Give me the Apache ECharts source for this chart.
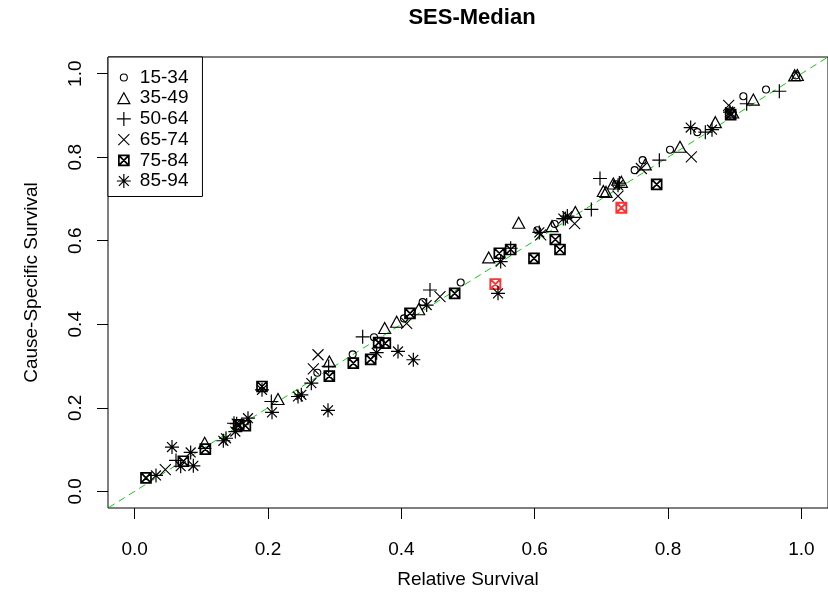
<!DOCTYPE html>
<html>
<head>
<meta charset="utf-8">
<script src="https://cdn.jsdelivr.net/npm/echarts@6/dist/echarts.min.js"></script>
<style>
  html, body { margin: 0; padding: 0; background: #fff; }
  #chart { width: 828px; height: 595px; }
</style>
</head>
<body>
<div id="chart"></div>
<script>
// ---- data (Relative Survival, Cause-Specific Survival) ----
const chartTitle = 'SES-Median';
const xAxisTitle = 'Relative Survival';
const yAxisTitle = 'Cause-Specific Survival';
const tickValues = [0, 0.2, 0.4, 0.6, 0.8, 1.0];
const groupNames = ['15-34', '35-49', '50-64', '65-74', '75-84', '85-94'];

const age15_34 = [
  [0.274, 0.284], [0.327, 0.328], [0.359, 0.369], [0.404, 0.414], [0.432, 0.453],
  [0.489, 0.500], [0.604, 0.625], [0.630, 0.640], [0.722, 0.735], [0.750, 0.769],
  [0.762, 0.793], [0.803, 0.818], [0.844, 0.860], [0.893, 0.910], [0.913, 0.946],
  [0.947, 0.962], [0.992, 0.996]
];
const age35_49 = [
  [0.105, 0.116], [0.215, 0.221], [0.292, 0.311], [0.375, 0.391], [0.393, 0.406],
  [0.426, 0.436], [0.531, 0.560], [0.576, 0.643], [0.626, 0.635], [0.661, 0.669],
  [0.703, 0.719], [0.707, 0.717], [0.718, 0.737], [0.730, 0.741], [0.766, 0.783],
  [0.818, 0.825], [0.871, 0.884], [0.897, 0.907], [0.928, 0.938], [0.990, 0.996],
  [0.994, 0.997]
];
const age50_64 = [
  [0.062, 0.074], [0.149, 0.163], [0.205, 0.215], [0.291, 0.299], [0.342, 0.370],
  [0.443, 0.482], [0.564, 0.582], [0.646, 0.653], [0.685, 0.675], [0.698, 0.749],
  [0.727, 0.738], [0.787, 0.793], [0.856, 0.860], [0.918, 0.928], [0.967, 0.958]
];
const age65_74 = [
  [0.046, 0.052], [0.268, 0.293], [0.275, 0.327], [0.408, 0.402], [0.458, 0.466],
  [0.609, 0.614], [0.660, 0.641], [0.725, 0.707], [0.760, 0.773], [0.835, 0.801],
  [0.891, 0.924]
];
const age75_84 = [
  [0.017, 0.032], [0.073, 0.072], [0.106, 0.101], [0.156, 0.159], [0.166, 0.157],
  [0.191, 0.251], [0.292, 0.276], [0.328, 0.307], [0.354, 0.316], [0.366, 0.356],
  [0.376, 0.355], [0.413, 0.426], [0.480, 0.474], [0.547, 0.570], [0.564, 0.579],
  [0.599, 0.558], [0.631, 0.603], [0.638, 0.579], [0.783, 0.735], [0.894, 0.902]
];
const age75_84Flagged = [
  [0.541, 0.496], [0.730, 0.679]
];
const age85_94 = [
  [0.032, 0.038], [0.056, 0.106], [0.069, 0.060], [0.084, 0.093], [0.088, 0.061],
  [0.133, 0.121], [0.137, 0.127], [0.151, 0.143], [0.153, 0.162], [0.170, 0.175],
  [0.191, 0.243], [0.206, 0.189], [0.245, 0.227], [0.250, 0.231], [0.265, 0.259],
  [0.290, 0.194], [0.363, 0.332], [0.395, 0.335], [0.418, 0.315], [0.438, 0.446],
  [0.545, 0.474], [0.549, 0.550], [0.607, 0.620], [0.643, 0.653], [0.649, 0.659],
  [0.725, 0.733], [0.834, 0.871], [0.866, 0.866], [0.893, 0.908]
];
const identityLine = [[-0.1, -0.1], [1.1, 1.1]];

// ---- styling ----
const FONT = "'Liberation Sans', Arial, sans-serif";
const SYM = {
  circle: 'circle',
  triangle: 'triangle',
  plus: 'path://M0 6L12 6M6 0L6 12',
  cross: 'path://M0 0L10 10M0 10L10 0',
  boxX: 'path://M0 0L10 0L10 10L0 10ZM0 0L10 10M0 10L10 0',
  star: 'path://M0 6L12 6M6 0L6 12M1.76 1.76L10.24 10.24M1.76 10.24L10.24 1.76'
};
const LEG = {
  circle: 'path://M0 0M14 14M10.5 7A3.5 3.5 0 1 1 3.5 7A3.5 3.5 0 1 1 10.5 7Z',
  triangle: 'path://M0 0M14 14M7 1.5L13 12.5L1 12.5Z',
  plus: 'path://M0 7L14 7M7 0L7 14',
  cross: 'path://M0 0M14 14M1.5 1.5L12.5 12.5M1.5 12.5L12.5 1.5',
  boxX: 'path://M0 0M14 14M2 2L12 2L12 12L2 12ZM2 2L12 12M2 12L12 2',
  star: 'path://M0 7L14 7M7 0L7 14M2.05 2.05L11.95 11.95M2.05 11.95L11.95 2.05'
};
const groupData = [age15_34, age35_49, age50_64, age65_74, age75_84, age85_94];
const groupSym = ['circle', 'triangle', 'plus', 'cross', 'boxX', 'star'];
const groupSize = [[7, 7], [12, 11], 14, 11, 10, 14];
const groupLW = [1.1, 1.2, 1.2, 1.1, 1.7, 1.2];

const series = [{
  type: 'line',
  data: identityLine,
  symbol: 'none',
  silent: true,
  lineStyle: { color: '#11cc11', width: 1, type: [7, 5] },
  z: 1
}];
groupNames.forEach((n, i) => {
  series.push({
    name: n,
    type: 'scatter',
    data: groupData[i],
    symbol: SYM[groupSym[i]],
    symbolSize: groupSize[i],
    itemStyle: { color: 'rgba(0,0,0,0)', borderColor: '#000', borderWidth: groupLW[i], opacity: 1 },
    z: 2
  });
  if (n === '75-84') {
    series.push({
      name: '75-84 flagged',
      type: 'scatter',
      data: age75_84Flagged,
      symbol: SYM.boxX,
      symbolSize: 10,
      itemStyle: { color: 'rgba(0,0,0,0)', borderColor: '#ff0000', borderWidth: 1.9 },
      z: 2
    });
  }
});

const labelFmt = v => v.toFixed(1);
const chart = echarts.init(document.getElementById('chart'), null, { renderer: 'canvas' });
chart.setOption({
  animation: false,
  backgroundColor: '#fff',
  textStyle: { fontFamily: FONT },
  graphic: [{
    type: 'text',
    x: 472, y: 18,
    style: { text: chartTitle, font: 'bold 22px ' + FONT, fill: '#000', align: 'center', verticalAlign: 'middle' }
  }],
  grid: { left: 108, top: 57, width: 728, height: 451, show: true, borderColor: '#000', borderWidth: 1, backgroundColor: 'transparent' },
  legend: {
    data: groupNames.map((n, i) => ({ name: n, icon: LEG[groupSym[i]] })),
    orient: 'vertical',
    left: 108, top: 57,
    padding: [11, 14, 6, 8],
    itemWidth: 22, itemHeight: 14, itemGap: 1.7,
    itemStyle: { borderWidth: 'inherit' },
    borderColor: '#000', borderWidth: 1, backgroundColor: '#fff',
    textStyle: { fontFamily: FONT, fontSize: 19, color: '#000', lineHeight: 19 },
    selectedMode: false
  },
  xAxis: {
    type: 'value', min: -0.04, max: 1.04,
    name: xAxisTitle, nameLocation: 'middle', nameGap: 62,
    nameTextStyle: { fontFamily: FONT, fontSize: 19, color: '#000' },
    axisLine: { show: false, onZero: false },
    splitLine: { show: false },
    axisTick: { show: true, length: 11, customValues: tickValues, lineStyle: { color: '#000' } },
    axisLabel: { customValues: tickValues, formatter: labelFmt, margin: 32, fontFamily: FONT, fontSize: 19, color: '#000' }
  },
  yAxis: {
    type: 'value', min: -0.04, max: 1.04,
    name: yAxisTitle, nameLocation: 'middle', nameGap: 67, nameRotate: 90,
    nameTextStyle: { fontFamily: FONT, fontSize: 19, color: '#000' },
    axisLine: { show: false, onZero: false },
    splitLine: { show: false },
    axisTick: { show: true, length: 11, customValues: tickValues, lineStyle: { color: '#000' } },
    axisLabel: { customValues: tickValues, formatter: labelFmt, rotate: 90, margin: 23, fontFamily: FONT, fontSize: 19, color: '#000' }
  },
  series: series
});
</script>
</body>
</html>
